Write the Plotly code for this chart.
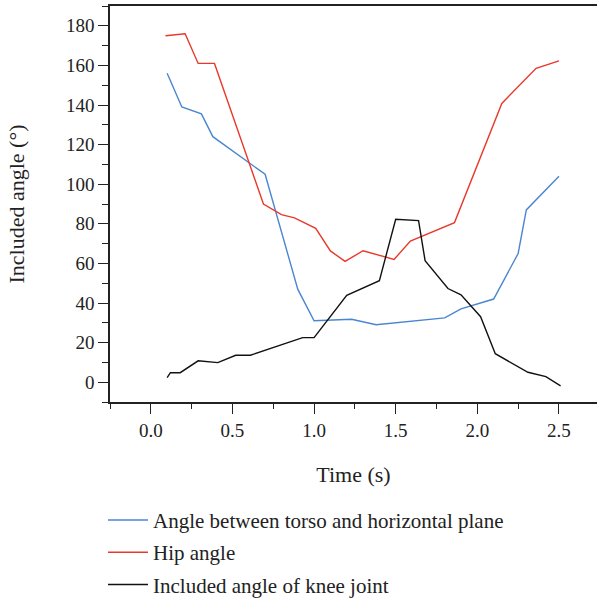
import plotly.graph_objects as go

# Data
torso_t = [0.10, 0.19, 0.31, 0.38, 0.70, 0.90, 1.00, 1.23, 1.38, 1.80, 1.90, 2.10, 2.25, 2.30, 2.50]
torso_v = [156, 139, 135.5, 124, 105, 47, 31, 31.8, 29, 32.5, 37, 42, 65, 87, 104]

hip_t = [0.09, 0.21, 0.29, 0.39, 0.69, 0.80, 0.88, 1.01, 1.10, 1.19, 1.30, 1.49, 1.59, 1.86, 2.15, 2.36, 2.50]
hip_v = [175, 176, 161, 161, 90, 84.6, 83, 77.7, 66.3, 61, 66.4, 62, 71.3, 80.6, 140.8, 158.5, 162.3]

knee_t = [0.10, 0.12, 0.18, 0.29, 0.41, 0.52, 0.61, 0.93, 1.00, 1.20, 1.40, 1.50, 1.64, 1.68, 1.82, 1.90, 2.02, 2.11, 2.31, 2.42, 2.51]
knee_v = [2.3, 4.8, 4.8, 10.8, 9.9, 13.6, 13.6, 22.5, 22.5, 43.9, 51.3, 82.3, 81.6, 61.4, 47.3, 44.1, 33.1, 14.4, 5.0, 2.8, -1.9]

names = ["Angle between torso and horizontal plane", "Hip angle", "Included angle of knee joint"]
colors = ["#4a86d0", "#e8392b", "#111111"]

FONT = "Liberation Serif"

fig = go.Figure()
for i, (t, v) in enumerate([(torso_t, torso_v), (hip_t, hip_v), (knee_t, knee_v)]):
    fig.add_trace(go.Scatter(x=t, y=v, mode="lines", name=names[i],
                             line=dict(color=colors[i], width=1.4),
                             legendgroup=f"g{i}"))

fig.update_layout(
    width=597, height=605,
    margin=dict(l=110, r=0, t=6, b=203),
    paper_bgcolor="white", plot_bgcolor="white",
    font=dict(family=FONT, size=18, color="#222"),
    showlegend=True,
    legend=dict(x=-0.0144, y=-0.247, xanchor="left", yanchor="top",
                orientation="v", traceorder="grouped", tracegroupgap=2,
                font=dict(family=FONT, size=21, color="#222"),
                itemwidth=40, bgcolor="rgba(0,0,0,0)"),
    xaxis=dict(range=[-0.25, 2.733], tick0=0, dtick=0.5, tickformat=".1f",
               showline=True, linecolor="#222", linewidth=1.5, mirror=True,
               ticks="outside", ticklen=10, tickwidth=1.3, tickcolor="#222",
               minor=dict(ticks="outside", ticklen=5, tickwidth=1.3, tickcolor="#222", dtick=0.25, tick0=0),
               showgrid=False, zeroline=False,
               title=dict(text="Time (s)", standoff=27),
               tickfont=dict(size=19)),
    yaxis=dict(range=[-10, 190], tick0=0, dtick=20,
               showline=True, linecolor="#222", linewidth=1.5,
               ticks="outside", ticklen=10, tickwidth=1.3, tickcolor="#222",
               minor=dict(ticks="outside", ticklen=6, tickwidth=1.3, tickcolor="#222", dtick=10, tick0=0),
               showgrid=False, zeroline=False,
               title=dict(text="Included angle (°)", standoff=35),
               tickfont=dict(size=19)),
)

fig.write_html("out.html")
